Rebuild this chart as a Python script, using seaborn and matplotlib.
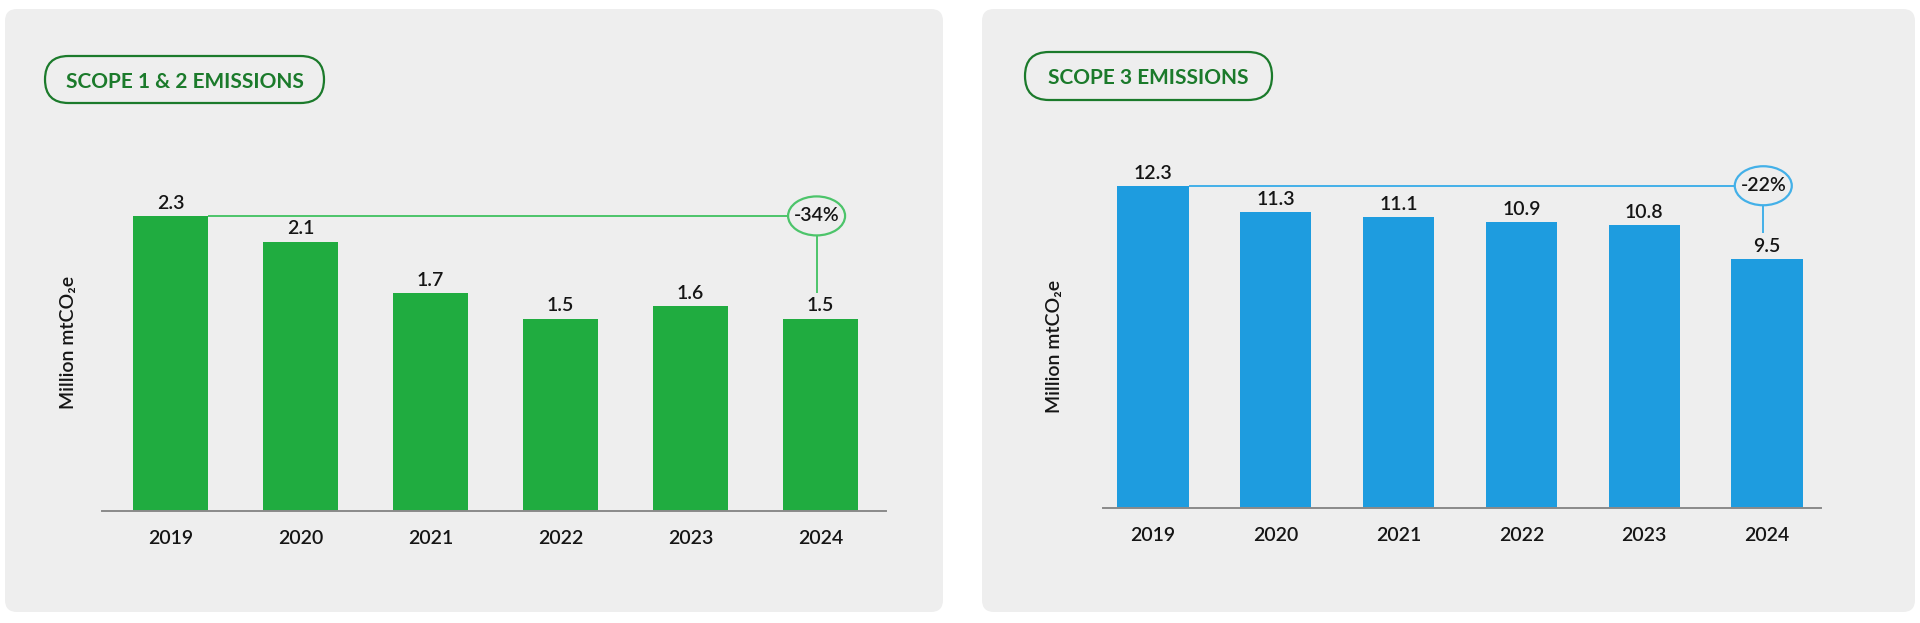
import matplotlib
matplotlib.use("Agg")
import matplotlib.pyplot as plt
import seaborn as sns
import pandas as pd
from matplotlib.patches import FancyBboxPatch, Ellipse
from matplotlib.transforms import IdentityTransform

# ---- data ----
years = ["2019", "2020", "2021", "2022", "2023", "2024"]
scope12 = [2.3, 2.1, 1.7, 1.5, 1.6, 1.5]
scope3 = [12.3, 11.3, 11.1, 10.9, 10.8, 9.5]
scope12_change = "-34%"
scope3_change = "-22%"
titles = ["SCOPE 1 & 2 EMISSIONS", "SCOPE 3 EMISSIONS"]
ylabel = "Million mtCO\u2082e"

sns.set_theme(style="white")
plt.rcParams["font.family"] = ["Lato", "DejaVu Sans"]

W, H = 1920, 623
fig = plt.figure(figsize=(W / 100, H / 100), dpi=100)
fig.patch.set_facecolor("white")
ID = IdentityTransform()

PANEL_BG = "#eeeeee"
DARK_GREEN = "#1b7a2b"
TXT = "#151515"
LBL_W = "semibold"


def px_box(x0, y0_top, x1, y1_top):
    """convert pixel box (y from top) to fig fraction rect"""
    return [x0 / W, (H - y1_top) / H, (x1 - x0) / W, (y1_top - y0_top) / H]


def panel(x0, y0, x1, y1):
    p = FancyBboxPatch((x0, H - y1), x1 - x0, y1 - y0,
                       boxstyle="round,pad=0,rounding_size=12",
                       transform=ID, facecolor=PANEL_BG, edgecolor="none",
                       zorder=-5)
    fig.patches.append(p)


def pill(x0, y0, x1, y1, text, fs):
    h = y1 - y0
    p = FancyBboxPatch((x0, H - y1), x1 - x0, h,
                       boxstyle=f"round,pad=0,rounding_size={h/2}",
                       transform=ID, facecolor="none", edgecolor=DARK_GREEN,
                       linewidth=1.6, zorder=-4)
    fig.patches.append(p)
    fig.text((x0 + x1) / 2, H - (y0 + y1) / 2, text, transform=ID,
             ha="center", va="center_baseline", fontsize=fs,
             fontweight="bold", color=DARK_GREEN)


def draw(ax, values, ymax, bar_color, line_color, change, xlim):
    df = pd.DataFrame({"year": years, "value": values})
    sns.barplot(data=df, x="year", y="value", color=bar_color, width=0.58,
                saturation=1, ax=ax, zorder=2, edgecolor="none")
    ax.set_xlim(*xlim)
    ax.set_ylim(0, ymax)
    ax.set_facecolor("none")
    ax.patch.set_visible(False)
    for s in ["top", "right", "left"]:
        ax.spines[s].set_visible(False)
    ax.spines["bottom"].set_color("#8a8a8a")
    ax.spines["bottom"].set_linewidth(1.4)
    ax.spines["bottom"].set_zorder(3)
    ax.set_yticks([])
    ax.set_xlabel("")
    ax.set_ylabel("")
    ax.tick_params(axis="x", length=0, pad=14, labelsize=14, labelcolor=TXT)
    for lab in ax.get_xticklabels():
        lab.set_fontweight(LBL_W)
    for i, v in enumerate(values):
        ax.annotate(f"{v}", xy=(i, v), xytext=(0, 3), textcoords="offset points",
                    ha="center", va="bottom", fontsize=14, color=TXT,
                    fontweight=LBL_W)
    # pixel scale
    p0 = ax.transData.transform((0, 0))
    p1 = ax.transData.transform((1, 1))
    sx, sy = p1[0] - p0[0], p1[1] - p0[1]
    ew, eh = 57 / sx, 39 / sy
    n = len(values) - 1
    cx, cy = n - 0.03, values[0]
    ax.plot([0 + 0.29, cx - ew / 2], [cy, cy], color=line_color, lw=1.4,
            zorder=3, solid_capstyle="butt")
    ax.add_patch(Ellipse((cx, cy), ew, eh, facecolor="none",
                         edgecolor=line_color, lw=1.6, zorder=4, clip_on=False))
    ax.text(cx, cy, change, ha="center", va="center", fontsize=14,
            color=TXT, zorder=5, fontweight=LBL_W)
    ax.plot([cx, cx], [cy - eh / 2, values[-1] + 26 / sy], color=line_color,
            lw=1.4, zorder=3, solid_capstyle="butt")


# panels
panel(5, 9, 943, 612)
panel(982, 9, 1915, 612)

# axes
ax1 = fig.add_axes(px_box(102, 511 - 3 * 128.3, 886, 511))
draw(ax1, scope12, 3, "#20ac40", "#4cc46a", scope12_change, (-0.527, 5.504))
ax2 = fig.add_axes(px_box(1103, 508 - 14 * 26.2, 1821, 508))
draw(ax2, scope3, 14, "#1e9cdf", "#43b0e8", scope3_change, (-0.407, 5.44))

# y labels
fig.text(68, H - 342, ylabel, transform=ID, rotation=90, ha="center",
         va="center", fontsize=14, color=TXT, fontweight=LBL_W)
fig.text(1055, H - 346, ylabel, transform=ID, rotation=90, ha="center",
         va="center", fontsize=14, color=TXT, fontweight=LBL_W)

# title pills
pill(45, 56, 324, 103, titles[0], 15)
pill(1025, 52, 1272, 100, titles[1], 15)

fig.savefig("out.png", dpi=100, facecolor="white")
